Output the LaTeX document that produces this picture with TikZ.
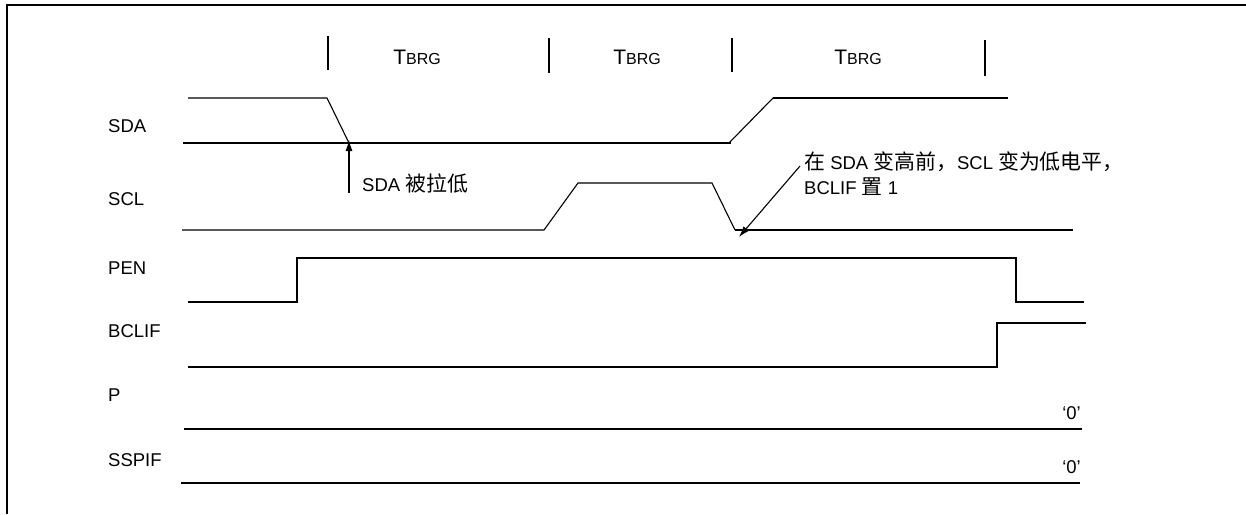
\documentclass[tikz,border=0pt]{standalone}
\usepackage{fontspec}
\setmainfont{Liberation Sans}
\newfontfamily\cjk[Scale=1.13]{Noto Sans CJK SC}
\usetikzlibrary{arrows.meta}

\begin{document}
\begin{tikzpicture}[x=1pt, y=-1pt, font=\fontsize{18.5}{21}\selectfont,
	sig/.style={line width=1.8pt},
	thin sig/.style={line width=1.1pt},
	tick/.style={line width=1.8pt},
	siglabel/.style={anchor=west, inner sep=0pt},
	zero/.style={anchor=east, inner sep=0pt, font=\fontsize{18.5}{21}\selectfont},
	tbrg/.style={inner sep=0pt, font=\fontsize{21}{24}\selectfont},
	note/.style={-{Latex[length=11pt,width=7pt]}, line width=1.1pt}]

		\useasboundingbox (0,0) rectangle (1246,514);

		% frame
		\draw[line width=2pt] (7,514) -- (7,5) -- (1246,5);

		% TBRG marks
		\draw[tick] (328,36) -- (328,70);
		\draw[tick] (549,38) -- (549,73);
		\draw[tick] (732,38) -- (732,72);
		\draw[tick] (985,40) -- (985,76);
		\node[tbrg] (t1) at (417,57) {T{\fontsize{16}{18}\selectfont BRG}};
		\node[tbrg] (t2) at (637,57) {T{\fontsize{16}{18}\selectfont BRG}};
		\node[tbrg] (t3) at (858,57) {T{\fontsize{16}{18}\selectfont BRG}};

		% signal names
		\node[siglabel] (sda) at (108,126) {SDA};
		\node[siglabel] (scl) at (108,199) {SCL};
		\node[siglabel] (pen) at (108,268) {PEN};
		\node[siglabel] (bclif) at (108,331) {BCLIF};
		\node[siglabel] (p) at (108,395) {P};
		\node[siglabel] (sspif) at (108,460) {SSPIF};

		% SDA
		\coordinate (sdafall) at (349,143);
		\draw[thin sig] (188,98) -- (327,98) -- (sdafall);
		\draw[sig] (183,143) -- (731,143);
		\draw[thin sig] (729,143) -- (773,98);
		\draw[sig] (773,98) -- (1008,98);

		% SCL
		\coordinate (sclfall) at (735,230);
		\draw[thin sig] (182,230) -- (544,230) -- (578,183) -- (712,183) -- (sclfall);
		\draw[sig] (sclfall) -- (1073,230);

		% PEN
		\draw[sig] (188,302) -- (297,302) -- (297,258) -- (1016,258) -- (1016,302) -- (1084,302);

		% BCLIF
		\draw[sig] (188,367) -- (997,367) -- (997,323) -- (1086,323);

		% P and SSPIF
		\draw[sig] (184,429) -- (1082,429);
		\node[zero] (pzero) at (1081,413) {‘0’};
		\draw[sig] (181,483) -- (1080,483);
		\node[zero] (sspifzero) at (1081,467) {‘0’};

		% notes
		\coordinate (pulltail) at (349,193);
		\draw[note] (pulltail) -- ([yshift=3pt]sdafall);
		\node[siglabel] (pull) at (362,184) {SDA {\cjk 被拉低}};

		\node[anchor=north west, inner sep=0pt, align=left, font=\fontsize{18.5}{25}\selectfont] (early) at (804,152) {{\cjk 在} SDA {\cjk 变高前，}SCL {\cjk 变为低电平，}\\BCLIF {\cjk 置} 1};
		\coordinate (earlytail) at (800,166);
		\draw[note] (earlytail) -- ([xshift=4pt,yshift=-7pt]sclfall);

	\end{tikzpicture}
\end{document}
